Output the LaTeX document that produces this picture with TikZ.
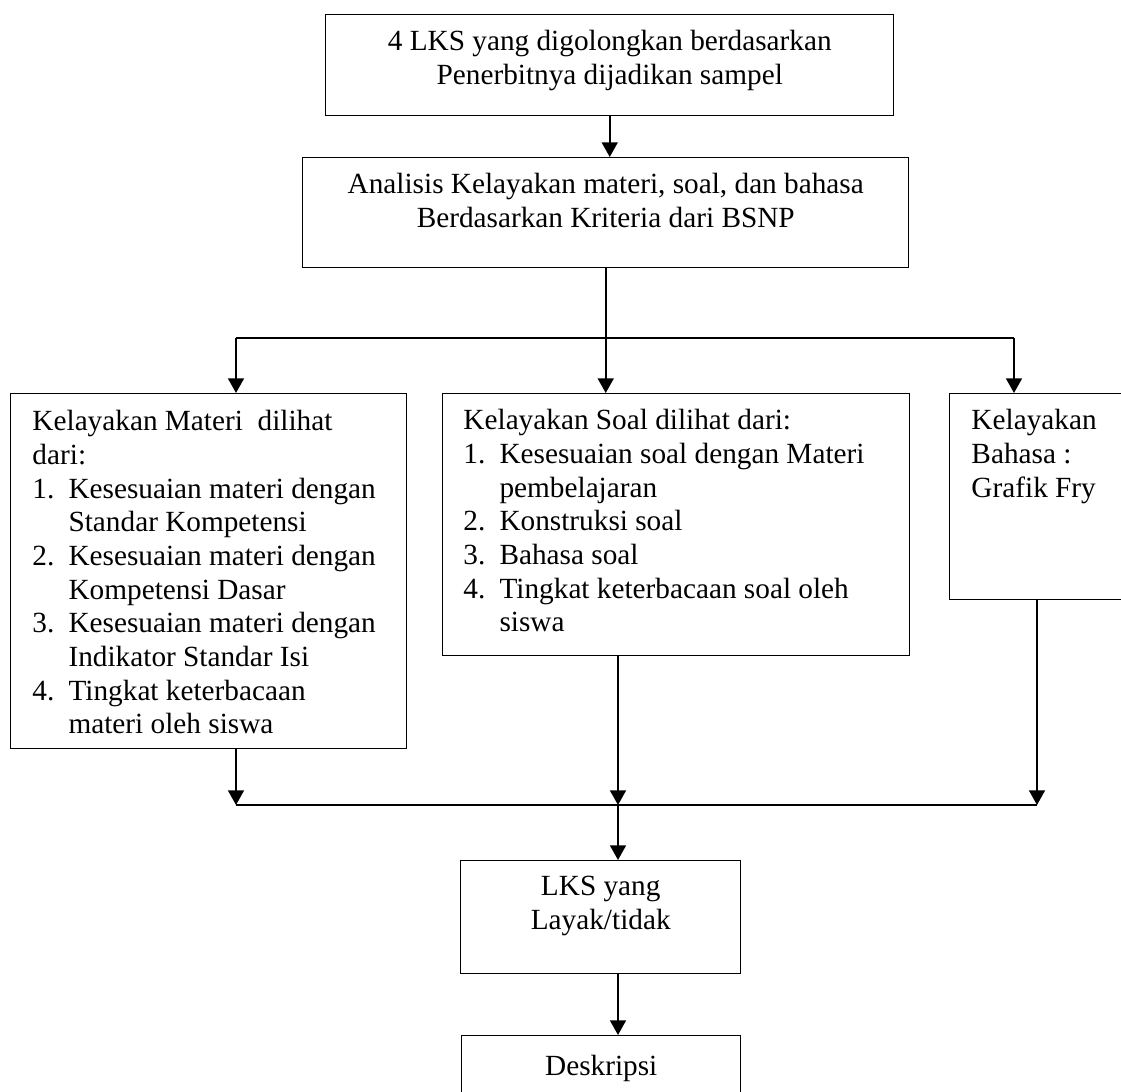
\documentclass[tikz,border=0pt]{standalone}
\usepackage{fontspec}
\setmainfont{Liberation Serif}
\usetikzlibrary{arrows.meta}
\def\px{0.41pt}
\def\nw{14.8pt}
\def\butir#1{\makebox[\nw][l]{#1}}
\def\lanjut{\hspace*{\nw}}

\begin{document}
\begin{tikzpicture}[x=0.41pt, y=-0.41pt,
	kotak/.style={draw, line width=0.6pt, rectangle, inner sep=0pt, anchor=north west},
	isi/.style={font=\fontsize{12pt}{13.8pt}\selectfont, inner sep=0pt, anchor=north west, align=left},
	isitengah/.style={isi, anchor=north, align=center},
	garis/.style={line width=0.85pt},
	panah/.style={garis, -{Triangle[length=6pt, width=6.5pt]}}]
		%%%%% MULAI %%%%%
		\path[use as bounding box, clip] (0,0) rectangle (1121,1092);
		
		% kotak
		\node[kotak, minimum width=568*\px, minimum height=101*\px] (sampel) at (325,14) {};
		\node[kotak, minimum width=606*\px, minimum height=110*\px] (analisis) at (302,157) {};
		\node[kotak, minimum width=396*\px, minimum height=355*\px] (materi) at (10,393) {};
		\node[kotak, minimum width=467*\px, minimum height=262*\px] (soal) at (442,393) {};
		\node[kotak, minimum width=190*\px, minimum height=206*\px] (bahasa) at (949,393) {};
		\node[kotak, minimum width=280*\px, minimum height=113*\px] (layak) at (460,860) {};
		\node[kotak, minimum width=279*\px, minimum height=80*\px] (deskripsi) at (461,1035) {};
		
		% tulisan
		\node[isitengah] (sampeltxt) at ([shift={(0,16)}]sampel.north) {4 LKS yang digolongkan berdasarkan\\Penerbitnya dijadikan sampel};
		\node[isitengah] (analisistxt) at ([shift={(0,16)}]analisis.north) {Analisis Kelayakan materi, soal, dan bahasa\\Berdasarkan Kriteria dari BSNP};
		\node[isi] (materitxt) at ([shift={(22,17)}]materi.north west) {Kelayakan Materi\ \ dilihat\\dari:\\
			\butir{1.}Kesesuaian materi dengan\\\lanjut Standar Kompetensi\\
			\butir{2.}Kesesuaian materi dengan\\\lanjut Kompetensi Dasar\\
			\butir{3.}Kesesuaian materi dengan\\\lanjut Indikator Standar Isi\\
			\butir{4.}Tingkat keterbacaan\\\lanjut materi oleh siswa};
		\node[isi] (soaltxt) at ([shift={(21,16)}]soal.north west) {Kelayakan Soal dilihat dari:\\
			\butir{1.}Kesesuaian soal dengan Materi\\\lanjut pembelajaran\\
			\butir{2.}Konstruksi soal\\
			\butir{3.}Bahasa soal\\
			\butir{4.}Tingkat keterbacaan soal oleh\\\lanjut siswa};
		\node[isi] (bahasatxt) at ([shift={(22,16)}]bahasa.north west) {Kelayakan\\Bahasa :\\Grafik Fry};
		\node[isitengah] (layaktxt) at ([shift={(0,16)}]layak.north) {LKS yang\\Layak/tidak};
		\node[isitengah] (deskripsitxt) at ([shift={(0,20)}]deskripsi.north) {Deskripsi};
		
		% titik cabang
		\coordinate (cabkiri) at (236,338);
		\coordinate (cabkanan) at (1014,338);
		\coordinate (gabkiri) at (236,805);
		\coordinate (gabtengah) at (618,805);
		\coordinate (gabkanan) at (1037,805);
		
		% panah
		\draw[panah] (sampel.south) -- (sampel.south |- analisis.north);
		\draw[panah] (analisis.south) -- (analisis.south |- soal.north);
		\draw[garis] (cabkiri) -- (cabkanan);
		\draw[panah] (cabkiri) -- (cabkiri |- materi.north);
		\draw[panah] (cabkanan) -- (cabkanan |- bahasa.north);
		
		\draw[panah] (gabkiri |- materi.south) -- (gabkiri);
		\draw[panah] (gabtengah |- soal.south) -- (gabtengah);
		\draw[panah] (gabkanan |- bahasa.south) -- (gabkanan);
		\draw[garis] (gabkiri) -- (gabkanan);
		\draw[panah] (gabtengah) -- (gabtengah |- layak.north);
		\draw[panah] (gabtengah |- layak.south) -- (gabtengah |- deskripsi.north);
		
		%%%%% SELESAI %%%%%
\end{tikzpicture}
\end{document}
